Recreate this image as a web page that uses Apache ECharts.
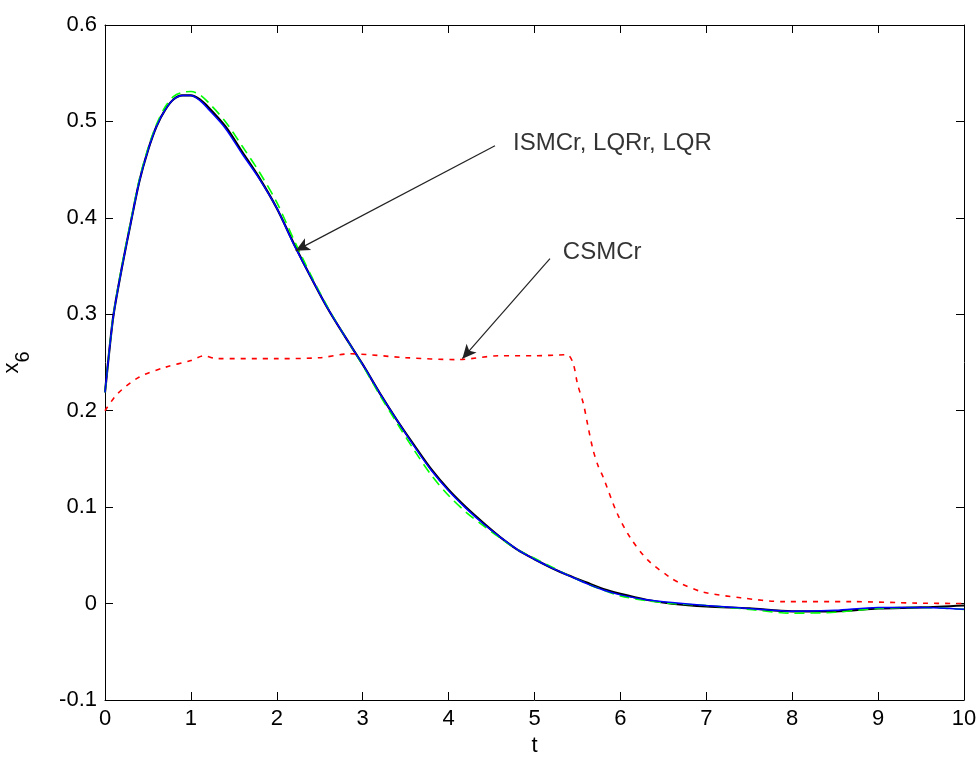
<!DOCTYPE html>
<html>
<head>
<meta charset="utf-8">
<script src="https://cdn.jsdelivr.net/npm/echarts@6/dist/echarts.min.js"></script>
<style>
html,body{margin:0;padding:0;background:#fff;}
#c{width:980px;height:767px;}
</style>
</head>
<body>
<div id="c"></div>
<script>
// ---- data ----
const tMain = [0,0.05,0.1,0.2,0.3,0.4,0.5,0.6,0.7,0.8,0.9,1.0,1.1,1.2,1.4,1.6,1.8,2.0,2.2,2.4,2.6,2.8,3.0,3.2,3.4,3.6,3.8,4.0,4.2,4.4,4.6,4.8,5.0,5.2,5.4,5.6,5.8,6.0,6.3,6.6,7.0,7.5,8.0,8.5,9.0,9.5,10];
const blueVals = [0.219,0.262,0.300,0.350,0.395,0.438,0.470,0.495,0.512,0.523,0.527,0.527,0.522,0.513,0.493,0.466,0.440,0.410,0.372,0.338,0.305,0.276,0.248,0.218,0.190,0.163,0.138,0.117,0.099,0.083,0.069,0.056,0.046,0.037,0.029,0.021,0.014,0.009,0.004,0.001,-0.002,-0.005,-0.008,-0.007,-0.004,-0.004,-0.006];
const blackVals = [0.219,0.262,0.300,0.350,0.395,0.438,0.470,0.495,0.512,0.523,0.527,0.527,0.523,0.515,0.495,0.468,0.441,0.410,0.373,0.338,0.305,0.276,0.248,0.218,0.190,0.164,0.139,0.118,0.100,0.084,0.069,0.056,0.046,0.037,0.029,0.022,0.015,0.010,0.004,0.000,-0.003,-0.005,-0.008,-0.008,-0.005,-0.004,-0.002];
const greenVals = [0.219,0.262,0.301,0.352,0.397,0.440,0.472,0.497,0.515,0.526,0.530,0.531,0.528,0.520,0.500,0.474,0.447,0.416,0.377,0.340,0.306,0.276,0.247,0.216,0.187,0.159,0.133,0.112,0.095,0.081,0.068,0.056,0.047,0.038,0.029,0.021,0.014,0.008,0.003,0.000,-0.002,-0.006,-0.010,-0.009,-0.005,-0.004,-0.006];
const tRed = [0,0.15,0.4,0.7,1.0,1.15,1.3,2.0,2.5,2.85,3.5,4.1,4.6,5.0,5.38,5.45,5.5,5.57,5.62,5.68,5.74,5.8,5.96,6.11,6.32,6.58,6.7,6.96,7.4,7.9,8.7,9.45,10];
const redVals = [0.200,0.218,0.235,0.245,0.252,0.257,0.254,0.254,0.255,0.259,0.255,0.253,0.257,0.257,0.258,0.249,0.228,0.207,0.185,0.160,0.143,0.131,0.094,0.069,0.045,0.027,0.021,0.012,0.006,0.002,0.002,0.0005,0.0];
const xTicks = [0,1,2,3,4,5,6,7,8,9,10];
const yTicks = [-0.1,0,0.1,0.2,0.3,0.4,0.5,0.6];
// annotations
const annoText1 = 'ISMCr, LQRr, LQR';
const annoPos1 = [4.75, 0.477];
const arrow1 = [[4.54, 0.4747], [2.22, 0.366]];
const annoText2 = 'CSMCr';
const annoPos2 = [5.33, 0.364];
const arrow2 = [[5.18, 0.3577], [4.16, 0.254]];

const zip = (a, b) => a.map((v, i) => [v, b[i]]);
const FONT = 'Liberation Sans, Arial, sans-serif';

const chart = echarts.init(document.getElementById('c'), null, {renderer: 'canvas'});
const axisCommon = {
  type: 'value',
  axisLine: {show: true, onZero: false, lineStyle: {color: '#000', width: 1}},
  axisTick: {show: true, inside: true, length: 8, lineStyle: {color: '#000'}},
  splitLine: {show: false}
};
const textStyle = {color: '#000', fontFamily: FONT, fontSize: 22};
const annoStyle = {color: '#000', fontFamily: FONT, fontSize: 24};
const option = {
  animation: false,
  backgroundColor: '#fff',
  grid: {left: 105, right: 16, top: 25, bottom: 67, containLabel: false, outerBoundsMode: 'none'},
  xAxis: [
    Object.assign({}, axisCommon, {
      min: xTicks[0], max: xTicks[xTicks.length - 1], interval: 1, position: 'bottom',
      name: 't', nameLocation: 'middle', nameGap: 34,
      nameTextStyle: textStyle,
      axisLabel: Object.assign({show: true, margin: 8}, textStyle)
    }),
    Object.assign({}, axisCommon, {
      min: xTicks[0], max: xTicks[xTicks.length - 1], interval: 1, position: 'top',
      axisLabel: {show: false}
    })
  ],
  yAxis: [
    Object.assign({}, axisCommon, {
      min: yTicks[0], max: yTicks[yTicks.length - 1], interval: 0.1, position: 'left',
      axisLabel: Object.assign({show: true, margin: 8,
        formatter: v => (Math.round(v * 10) / 10).toString()}, textStyle),
      name: '{a|x}{b|6}', nameLocation: 'middle', nameGap: 72, nameRotate: 90,
      nameTextStyle: {
        color: '#000', fontFamily: FONT,
        rich: {
          a: {fontSize: 22, fontFamily: FONT, color: '#000', verticalAlign: 'top', lineHeight: 32},
          b: {fontSize: 20, fontFamily: FONT, color: '#000', verticalAlign: 'bottom', lineHeight: 32}
        }
      }
    }),
    Object.assign({}, axisCommon, {
      min: yTicks[0], max: yTicks[yTicks.length - 1], interval: 0.1, position: 'right',
      axisLabel: {show: false}
    })
  ],
  series: [
    {
      name: 'LQR', type: 'line', data: zip(tMain, blackVals), symbol: 'none', smooth: 0.3,
      lineStyle: {color: '#000', width: 2.2}, z: 2
    },
    {
      name: 'LQRr', type: 'line', data: zip(tMain, greenVals), symbol: 'none', smooth: 0.3,
      lineStyle: {color: '#00ff00', width: 1.6, type: [10, 6]}, z: 3
    },
    {
      name: 'ISMCr', type: 'line', data: zip(tMain, blueVals), symbol: 'none', smooth: 0.3,
      lineStyle: {color: '#0000ff', width: 1.5}, z: 4
    },
    {
      name: 'CSMCr', type: 'line', data: zip(tRed, redVals), symbol: 'none', smooth: 0.3,
      lineStyle: {color: '#ff0000', width: 1.6, type: [5, 6]}, z: 5
    },
    {
      name: 'annotations', type: 'scatter', symbolSize: 0, silent: true,
      itemStyle: {color: '#000'},
      data: [
        {value: annoPos1, label: Object.assign({show: true, formatter: annoText1, position: 'right', distance: 0}, annoStyle)},
        {value: annoPos2, label: Object.assign({show: true, formatter: annoText2, position: 'right', distance: 0}, annoStyle)}
      ],
      markLine: {
        silent: true, symbol: ['none', 'arrow'], symbolSize: [10, 14],
        lineStyle: {color: '#222', width: 1.2, type: 'solid'},
        itemStyle: {color: '#000'},
        label: {show: false},
        data: [
          [{coord: arrow1[0]}, {coord: arrow1[1]}],
          [{coord: arrow2[0]}, {coord: arrow2[1]}]
        ]
      },
      z: 6
    }
  ]
};
chart.setOption(option);
</script>
</body>
</html>
